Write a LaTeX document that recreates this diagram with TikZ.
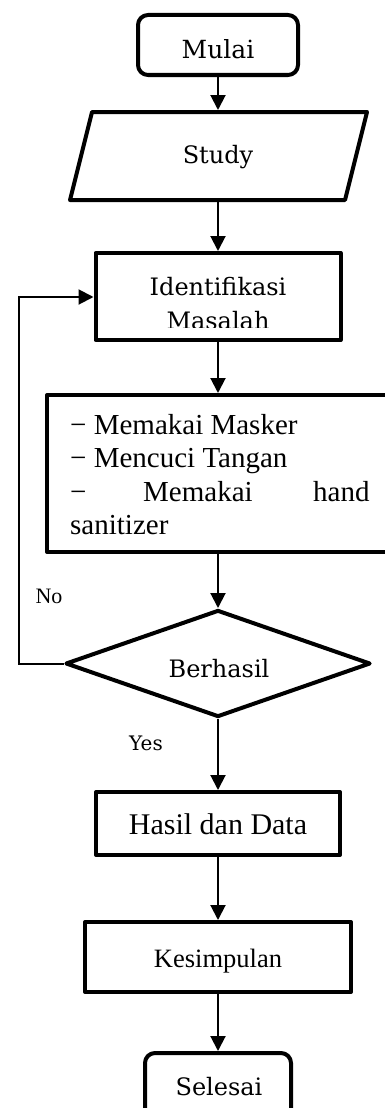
\documentclass[tikz,border=0pt]{standalone}
\usepackage{fontspec}
\setmainfont{Liberation Serif}
\newfontfamily\cam{DejaVu Serif}
\usetikzlibrary{shapes.geometric,arrows.meta}
\begin{document}
\begin{tikzpicture}[x=1pt,y=-1pt,
  boxst/.style={draw,line width=4pt,inner sep=0,outer sep=2pt,line join=round},
  ghost/.style={inner sep=0,outer sep=2pt},
  arr/.style={line width=2pt,-{Triangle[width=15pt,length=15pt]}},
  txt/.style={inner sep=0,anchor=base},
  txtl/.style={inner sep=0,anchor=base west},
  camtxt/.style={font=\cam\fontsize{24}{28}\selectfont},
  timtxt/.style={font=\fontsize{29}{33}\selectfont}]
\useasboundingbox (0,0) rectangle (385,1108);
\clip (0,0) rectangle (385,1108);
\fill[white] (0,0) rectangle (385,1108);

% Mulai
\node[boxst,rounded corners=10pt,minimum width=160pt,minimum height=60pt] (mulai) at (218,45) {};
\node[txt,camtxt,font=\cam\fontsize{25}{28}\selectfont] (tmulai) at (218,59) {Mulai};

% Study (parallelogram)
\draw[line width=4pt,line join=round] (92,112) -- (367,112) -- (345,200) -- (70,200) -- cycle;
\node[ghost,minimum width=240pt,minimum height=88pt] (study) at (218,156) {};
\node[txt,camtxt] (tstudy) at (218,163) {Study};

% Identifikasi Masalah
\node[boxst,minimum width=245pt,minimum height=87pt] (idf) at (218,296.5) {};
\node[txt,camtxt] (tidf1) at (218,295) {Identifikasi};
\begin{scope}
\clip (100,300) rectangle (338,327);
\node[txt,camtxt] (tidf2) at (218,329) {Masalah};
\end{scope}

% list box
\node[boxst,minimum width=353pt,minimum height=157pt] (list) at (223.5,473.5) {};
\node[txtl,timtxt] (l1) at (70,434) {− Memakai Masker};
\node[txtl,timtxt] (l2) at (70,467) {− Mencuci Tangan};
\node[txtl,timtxt] (l3a) at (70,501) {−};
\node[txtl,timtxt] (l3b) at (143,501) {Memakai};
\node[txtl,timtxt] (l3c) at (313,501) {hand};
\node[txtl,timtxt] (l4) at (70,534) {sanitizer};

% decision
\node[boxst,shape=diamond,minimum width=305pt,minimum height=107pt] (dia) at (218,663.5) {};
\node[txt,camtxt] (tdia) at (219,677) {Berhasil};
\node[txt,font=\fontsize{22}{24}\selectfont] (no) at (49,603) {No};
\node[txt,font=\cam\fontsize{20}{24}\selectfont] (yes) at (146,750) {Yes};

% Hasil dan Data
\node[boxst,minimum width=244pt,minimum height=63pt] (hasil) at (218,823.5) {};
\node[txt,font=\fontsize{30}{33}\selectfont] (thasil) at (218,834) {Hasil dan Data};

% Kesimpulan
\node[boxst,minimum width=266pt,minimum height=70pt] (kes) at (218,957) {};
\node[txt,font=\fontsize{26.5}{30}\selectfont] (tkes) at (218,967) {Kesimpulan};

% Selesai
\node[boxst,rounded corners=10pt,minimum width=146pt,minimum height=72pt] (sel) at (218,1089) {};
\node[txt,camtxt] (tsel) at (219,1095) {Selesai};

% connectors
\coordinate (fb) at (19,297);
\draw[arr] (mulai.south) -- (study.north);
\draw[arr] (study.south) -- (idf.north);
\draw[arr] (idf.south) -- (idf.south |- list.north);
\draw[arr] (dia.north |- list.south) -- (dia.north);
\draw[arr] (dia.west) -| (fb) -- (idf.west |- fb);
\draw[arr] (dia.south) -- (hasil.north);
\draw[arr] (hasil.south) -- (kes.north);
\draw[arr] (kes.south) -- (sel.north);
\end{tikzpicture}
\end{document}
